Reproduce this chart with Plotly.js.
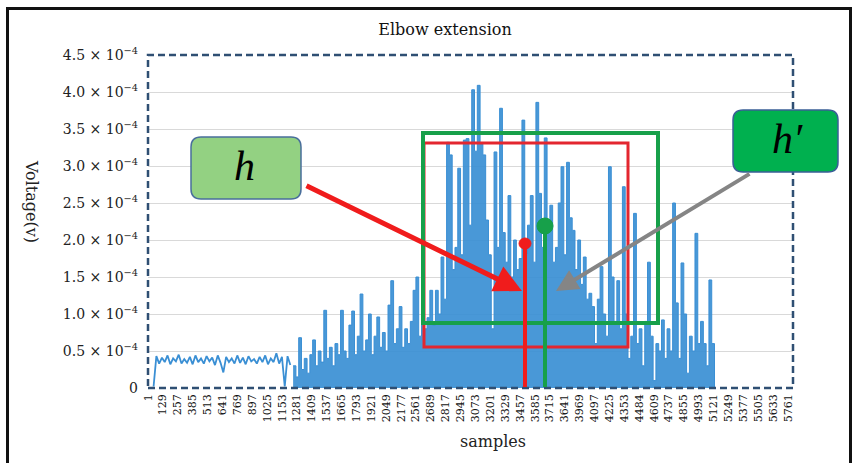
<!DOCTYPE html>
<html>
<head>
<meta charset="utf-8">
<script src="https://cdn.plot.ly/plotly-3.0.1.min.js"></script>
<style>
  html, body { margin: 0; padding: 0; background: #fff; overflow: hidden; }
  #chart { width: 852px; height: 463px; }
  #frame { position: absolute; left: 6px; top: 7px; width: 840px; height: 480px;
           border: 3px solid #111; pointer-events: none; }
</style>
</head>
<body>
<div id="chart"></div>
<div id="frame"></div>
<script>
// ---------------- data ----------------
const sampleLabels = ['1','129','257','385','513','641','769','897','1025','1153','1281','1409',
  '1537','1665','1793','1921','2049','2177','2561','2689','2817','2945','3073','3201','3329',
  '3457','3585','3715','3641','3969','4097','4225','4353','4484','4609','4737','4855','4993',
  '5121','5249','5377','5505','5633','5761'];
const labelStep = 128;          // samples between successive tick labels
const sampleStart = 49;         // first plotted sample
const sampleStep = 24;          // samples between plotted readings

// voltage readings in units of 1e-4 V
const quietVolt = [0.02,0.43,0.33,0.41,0.35,0.44,0.32,0.40,0.36,0.45,
  0.33,0.39,0.34,0.42,0.32,0.44,0.35,0.40,0.33,0.43,
  0.36,0.41,0.31,0.44,0.34,0.21,0.42,0.35,0.40,0.33,
  0.44,0.34,0.41,0.32,0.43,0.36,0.39,0.33,0.42,0.35,
  0.44,0.32,0.40,0.35,0.47,0.33,0.42,0.02,0.43,0.31];
const activeVolt = [
  0.30,0.15,0.68,0.25,0.40,0.20,0.45,0.65,0.30,0.50,   // 50-59
  0.35,1.05,0.40,0.55,0.30,0.60,0.45,1.05,0.50,0.40,   // 60-69
  0.85,1.04,0.45,0.70,1.27,0.50,0.65,1.00,0.45,0.70,   // 70-79
  0.96,0.55,0.75,0.50,1.12,1.45,0.60,0.80,1.10,0.55,   // 80-89
  0.80,0.60,0.90,1.32,1.50,0.70,1.15,0.80,0.95,1.32,   // 90-99
  0.85,1.32,1.00,1.77,1.20,3.32,3.15,1.60,1.90,2.97,   // 100-109
  1.80,3.35,3.37,2.20,4.03,3.20,4.09,3.30,3.15,2.27,   // 110-119
  1.80,0.80,3.19,1.90,3.78,2.10,1.70,2.60,1.50,2.00,   // 120-129
  1.60,1.75,3.62,1.80,2.20,2.60,1.70,3.86,2.63,1.90,   // 130-139
  3.38,2.20,2.47,1.70,1.90,2.50,2.99,1.80,3.05,2.30,   // 140-149
  2.13,1.60,2.00,1.40,1.77,1.20,1.28,1.10,0.60,1.20,   // 150-159
  1.64,1.00,0.70,2.99,1.50,0.90,1.45,0.80,2.72,1.00,   // 160-169
  0.40,0.70,2.36,0.60,0.80,0.30,0.90,1.70,0.70,0.10,   // 170-179
  0.60,0.50,0.92,0.40,0.80,0.50,2.50,1.15,0.40,1.69,   // 180-189
  1.00,0.20,0.70,0.50,2.09,0.60,0.90,0.60,0.30,1.46,   // 190-199
  0.60,0.00];                                          // 200-201
const yTickVals = [0,0.5,1.0,1.5,2.0,2.5,3.0,3.5,4.0,4.5];
const yTickText = ['0','0.5','1.0','1.5','2.0','2.5','3.0','3.5','4.0','4.5'];
const UNIT = 1e-4;

// ---------------- layout helpers (pixel -> paper) ----------------
const M = {l:148, r:59, t:55, b:75};
const W = 852 - M.l - M.r, H = 463 - M.t - M.b;
const px = x => (x - M.l) / W;
const py = y => (M.t + H - y) / H;
function roundRect(x0, y0, x1, y1, r) {
  const P = (x, y) => px(x).toFixed(5) + ',' + py(y).toFixed(5);
  return 'M' + P(x0 + r, y0) + ' L' + P(x1 - r, y0) + ' Q' + P(x1, y0) + ' ' + P(x1, y0 + r) +
    ' L' + P(x1, y1 - r) + ' Q' + P(x1, y1) + ' ' + P(x1 - r, y1) +
    ' L' + P(x0 + r, y1) + ' Q' + P(x0, y1) + ' ' + P(x0, y1 - r) +
    ' L' + P(x0, y0 + r) + ' Q' + P(x0, y0) + ' ' + P(x0 + r, y0) + ' Z';
}

// ---------------- traces ----------------
const blue = '#3a8fd4';
const quietX = quietVolt.map((_, i) => sampleStart + sampleStep * i);
const activeX = activeVolt.map((_, j) => sampleStart + sampleStep * (quietVolt.length + j));
const traces = [
  {x: quietX, y: quietVolt.map(v => v * UNIT), type: 'scatter', mode: 'lines',
   line: {color: blue, width: 1.8}, hoverinfo: 'skip', showlegend: false},
  {x: activeX, y: activeVolt.map(v => v * UNIT), type: 'scatter', mode: 'lines',
   line: {color: blue, width: 1, shape: 'hv'}, fill: 'tozeroy',
   fillcolor: 'rgba(58,143,212,0.92)', hoverinfo: 'skip', showlegend: false}
];

const serif = 'DejaVu Serif, Liberation Serif, serif';
const red = '#f01c1c', green = '#17a04a';

const shapes = [
  // dashed plot border
  {type: 'rect', xref: 'paper', yref: 'paper', x0: 0, x1: 1, y0: 0, y1: 1,
   line: {color: '#2f4f73', width: 2.5, dash: '7px,4px'}, layer: 'above'},
  // red box
  {type: 'rect', xref: 'paper', yref: 'paper', x0: px(424), x1: px(628), y0: py(347), y1: py(143),
   line: {color: '#e3262f', width: 3}, layer: 'above'},
  // green box
  {type: 'rect', xref: 'paper', yref: 'paper', x0: px(423), x1: px(658), y0: py(323), y1: py(133),
   line: {color: green, width: 4}, layer: 'above'},
  // red stem + dot
  {type: 'line', xref: 'paper', yref: 'paper', x0: px(525), x1: px(525), y0: py(387), y1: py(243),
   line: {color: red, width: 4}, layer: 'above'},
  {type: 'circle', xref: 'paper', yref: 'paper', x0: px(519), x1: px(531), y0: py(249), y1: py(238),
   fillcolor: red, line: {color: red, width: 1}, layer: 'above'},
  // green stem + dot
  {type: 'line', xref: 'paper', yref: 'paper', x0: px(545), x1: px(545), y0: py(387), y1: py(226),
   line: {color: green, width: 4}, layer: 'above'},
  {type: 'circle', xref: 'paper', yref: 'paper', x0: px(537), x1: px(553), y0: py(234), y1: py(218),
   fillcolor: green, line: {color: green, width: 1}, layer: 'above'},
  // label boxes
  {type: 'path', xref: 'paper', yref: 'paper', path: roundRect(191, 137, 301, 199, 10),
   fillcolor: '#93d182', line: {color: '#4a6f9c', width: 1.5}, layer: 'above'},
  {type: 'path', xref: 'paper', yref: 'paper', path: roundRect(733, 110, 838, 172, 10),
   fillcolor: '#00b04f', line: {color: '#3a5f96', width: 1.5}, layer: 'above'}
];

const boxFont = {family: 'Liberation Serif, serif', size: 42, color: '#000', style: 'italic'};
const annotations = [
  {text: 'h', xref: 'paper', yref: 'paper', x: px(244), y: py(166), xanchor: 'center', yanchor: 'middle',
   showarrow: false, font: boxFont},
  {text: 'h\u2032', xref: 'paper', yref: 'paper', x: px(787), y: py(139), xanchor: 'center', yanchor: 'middle',
   showarrow: false, font: boxFont},
  // red arrow
  {text: '', xref: 'paper', yref: 'paper', x: px(522), y: py(291), ax: 305 - 522, ay: 185 - 291,
   showarrow: true, arrowcolor: red, arrowwidth: 5, arrowhead: 2, arrowsize: 1.1, standoff: 0},
  // gray arrow
  {text: '', xref: 'paper', yref: 'paper', x: px(556), y: py(291), ax: 751 - 556, ay: 173 - 291,
   showarrow: true, arrowcolor: '#858585', arrowwidth: 4, arrowhead: 2, arrowsize: 1.1, standoff: 0},
  // axis titles
  {text: 'Voltage(v)', xref: 'paper', yref: 'paper', x: px(32), y: py(201), xanchor: 'center', yanchor: 'middle',
   showarrow: false, textangle: 90, font: {family: serif, size: 16, color: '#222'}},
  {text: 'samples', xref: 'paper', yref: 'paper', x: px(493), y: py(441), xanchor: 'center', yanchor: 'middle',
   showarrow: false, font: {family: serif, size: 16, color: '#222'}}
];

const layout = {
  width: 852, height: 463,
  margin: M,
  paper_bgcolor: '#fff', plot_bgcolor: '#fff',
  title: {text: 'Elbow extension', x: 445 / 852, y: 1 - 29 / 463, xanchor: 'center', yanchor: 'middle',
          font: {family: serif, size: 16, color: '#111'}},
  xaxis: {range: [1, 5548], tickvals: sampleLabels.map((_, k) => 1 + labelStep * k),
          ticktext: sampleLabels, tickangle: -90, showgrid: false, zeroline: false,
          showline: false, ticks: '', ticklabelstandoff: 3,
          tickfont: {family: serif, size: 11, color: '#111'}},
  yaxis: {range: [0, 4.5 * UNIT], tickvals: yTickVals.map(v => v * UNIT),
          ticktext: yTickText.map(t => t === '0' ? '0' : t + ' \u00d7 10<sup>\u22124</sup>'),
          showgrid: true, gridcolor: '#d9d9d9', gridwidth: 1, zeroline: false,
          showline: false, ticks: '', ticklabelstandoff: 9,
          tickfont: {family: serif, size: 14, color: '#222'}},
  shapes: shapes,
  annotations: annotations,
  showlegend: false
};

Plotly.newPlot('chart', traces, layout, {displayModeBar: false, staticPlot: true});
</script>
</body>
</html>
